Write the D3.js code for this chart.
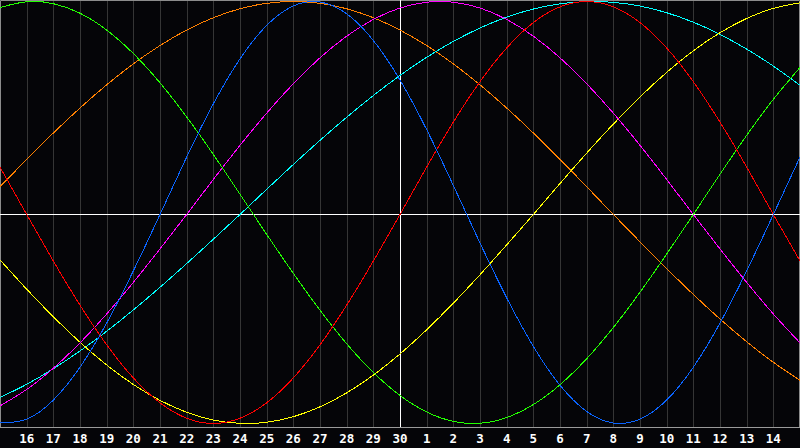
<!DOCTYPE html>
<html>
<head>
<meta charset="utf-8">
<script src="https://cdn.jsdelivr.net/npm/d3@7"></script>
<style>
  html, body { margin: 0; padding: 0; background: #050508; }
  svg { display: block; }
  .tick-label { font-family: "DejaVu Sans Mono", monospace; font-weight: bold; font-size: 12.5px; fill: #fff; }
</style>
</head>
<body>
<div id="chart"></div>
<script>
// day labels, 15 days either side of today (30)
var dayLabels = [15, 16, 17, 18, 19, 20, 21, 22, 23, 24, 25, 26, 27, 28, 29, 30,
                 1, 2, 3, 4, 5, 6, 7, 8, 9, 10, 11, 12, 13, 14, 15];

// one value per day (-1 .. 1)
var physical = [-0.9977, -0.9791, -0.8879, -0.7308, -0.5196, -0.2698, 0, 0.2698, 0.5196, 0.7308,
                0.8879, 0.9791, 0.9977, 0.9423, 0.8170, 0.6311, 0.3984, 0.1362, -0.1362, -0.3984,
                -0.6311, -0.8170, -0.9423, -0.9977, -0.9791, -0.8879, -0.7308, -0.5196, -0.2698, 0, 0.2698];
var emotional = [0.2225, 0, -0.2225, -0.4339, -0.6235, -0.7818, -0.9010, -0.9749, -1, -0.9749,
                 -0.9010, -0.7818, -0.6235, -0.4339, -0.2225, 0, 0.2225, 0.4339, 0.6235, 0.7818,
                 0.9010, 0.9749, 1, 0.9749, 0.9010, 0.7818, 0.6235, 0.4339, 0.2225, 0, -0.2225];
var intellectual = [0.9718, 0.9989, 0.9898, 0.9450, 0.8660, 0.7557, 0.6182, 0.4582, 0.2817, 0.0951,
                    -0.0951, -0.2817, -0.4582, -0.6182, -0.7557, -0.8660, -0.9450, -0.9898, -0.9989, -0.9718,
                    -0.9096, -0.8146, -0.6901, -0.5406, -0.3717, -0.1893, 0, 0.1893, 0.3717, 0.5406, 0.6901];
var intuitive = [-0.9158, -0.8372, -0.7357, -0.6142, -0.4759, -0.3247, -0.1646, 0, 0.1646, 0.3247,
                 0.4759, 0.6142, 0.7357, 0.8372, 0.9158, 0.9694, 0.9966, 0.9966, 0.9694, 0.9158,
                 0.8372, 0.7357, 0.6142, 0.4759, 0.3247, 0.1646, 0, -0.1646, -0.3247, -0.4759, -0.6142];
var aesthetic = [-0.2174, -0.3573, -0.4894, -0.6112, -0.7199, -0.8133, -0.8893, -0.9464, -0.9834, -0.9993,
                 -0.9940, -0.9675, -0.9203, -0.8535, -0.7686, -0.6673, -0.5517, -0.4244, -0.2881, -0.1456,
                 0, 0.1456, 0.2881, 0.4244, 0.5517, 0.6673, 0.7686, 0.8535, 0.9203, 0.9675, 0.9940];
var awareness = [0.1305, 0.2588, 0.3827, 0.5, 0.6088, 0.7071, 0.7934, 0.8660, 0.9239, 0.9659,
                 0.9914, 1, 0.9914, 0.9659, 0.9239, 0.8660, 0.7934, 0.7071, 0.6088, 0.5,
                 0.3827, 0.2588, 0.1305, 0, -0.1305, -0.2588, -0.3827, -0.5, -0.6088, -0.7071, -0.7934];
var spiritual = [-0.8757, -0.8125, -0.7379, -0.6529, -0.5586, -0.4566, -0.3482, -0.2349, -0.1183, 0,
                 0.1183, 0.2349, 0.3482, 0.4566, 0.5586, 0.6529, 0.7379, 0.8125, 0.8757, 0.9267,
                 0.9646, 0.9890, 0.9996, 0.9961, 0.9786, 0.9473, 0.9028, 0.8456, 0.7765, 0.6966, 0.6068];

var series = [
    { values: awareness, color: '#ff8000' },
    { values: spiritual, color: '#00ffff' },
    { values: aesthetic, color: '#ffff00' },
    { values: intuitive, color: '#ff00ff' },
    { values: intellectual, color: '#22ff00' },
    { values: emotional, color: '#ff0000' },
    { values: physical, color: '#0a64ff' }
];

var width = 800;
var height = 448;
var plotBottom = 427;
var todayIndex = 15;

var x = d3.scaleLinear().domain([0, dayLabels.length - 1]).range([0, width]);
var y = d3.scaleLinear().domain([-1, 0, 1]).range([423.5, 214.5, 1.5]);

var svg = d3.select('#chart')
    .append('svg')
    .attr('width', width)
    .attr('height', height);

svg.append('rect')
    .attr('width', width)
    .attr('height', height)
    .attr('fill', '#050508');

// day grid
svg.selectAll('.grid')
    .data(d3.range(1, dayLabels.length - 1))
    .enter().append('line')
    .attr('class', 'grid')
    .attr('x1', function(d) { return Math.round(x(d)) + 0.5; })
    .attr('x2', function(d) { return Math.round(x(d)) + 0.5; })
    .attr('y1', 0)
    .attr('y2', plotBottom)
    .attr('stroke', '#353535')
    .attr('stroke-width', 1);

// frame
svg.append('path')
    .attr('d', 'M0.5,' + plotBottom + 'V0.5H' + (width - 0.5) + 'V' + plotBottom)
    .attr('fill', 'none')
    .attr('stroke', '#8c8c8c');
svg.append('line')
    .attr('x1', 0).attr('x2', width)
    .attr('y1', plotBottom + 0.5).attr('y2', plotBottom + 0.5)
    .attr('stroke', '#9a9a9a');

// today + zero line
svg.append('line')
    .attr('x1', x(todayIndex) + 0.5).attr('x2', x(todayIndex) + 0.5)
    .attr('y1', 0).attr('y2', plotBottom)
    .attr('stroke', '#fff')
    .attr('stroke-width', 1);
svg.append('line')
    .attr('x1', 0).attr('x2', width)
    .attr('y1', y(0)).attr('y2', y(0))
    .attr('stroke', '#fff')
    .attr('stroke-width', 1);

var line = d3.line()
    .x(function(d, i) { return x(i); })
    .y(function(d) { return y(d); })
    .curve(d3.curveNatural);

svg.selectAll('.cycle')
    .data(series)
    .enter().append('path')
    .attr('class', 'cycle')
    .attr('d', function(d) { return line(d.values); })
    .attr('fill', 'none')
    .attr('stroke', function(d) { return d.color; })
    .attr('stroke-width', 1)
    .attr('shape-rendering', 'crispEdges');

svg.selectAll('.tick-label')
    .data(d3.range(1, dayLabels.length - 1))
    .enter().append('text')
    .attr('class', 'tick-label')
    .attr('x', function(d) { return x(d); })
    .attr('y', 443)
    .attr('text-anchor', 'middle')
    .text(function(d) { return dayLabels[d]; });
</script>
</body>
</html>
